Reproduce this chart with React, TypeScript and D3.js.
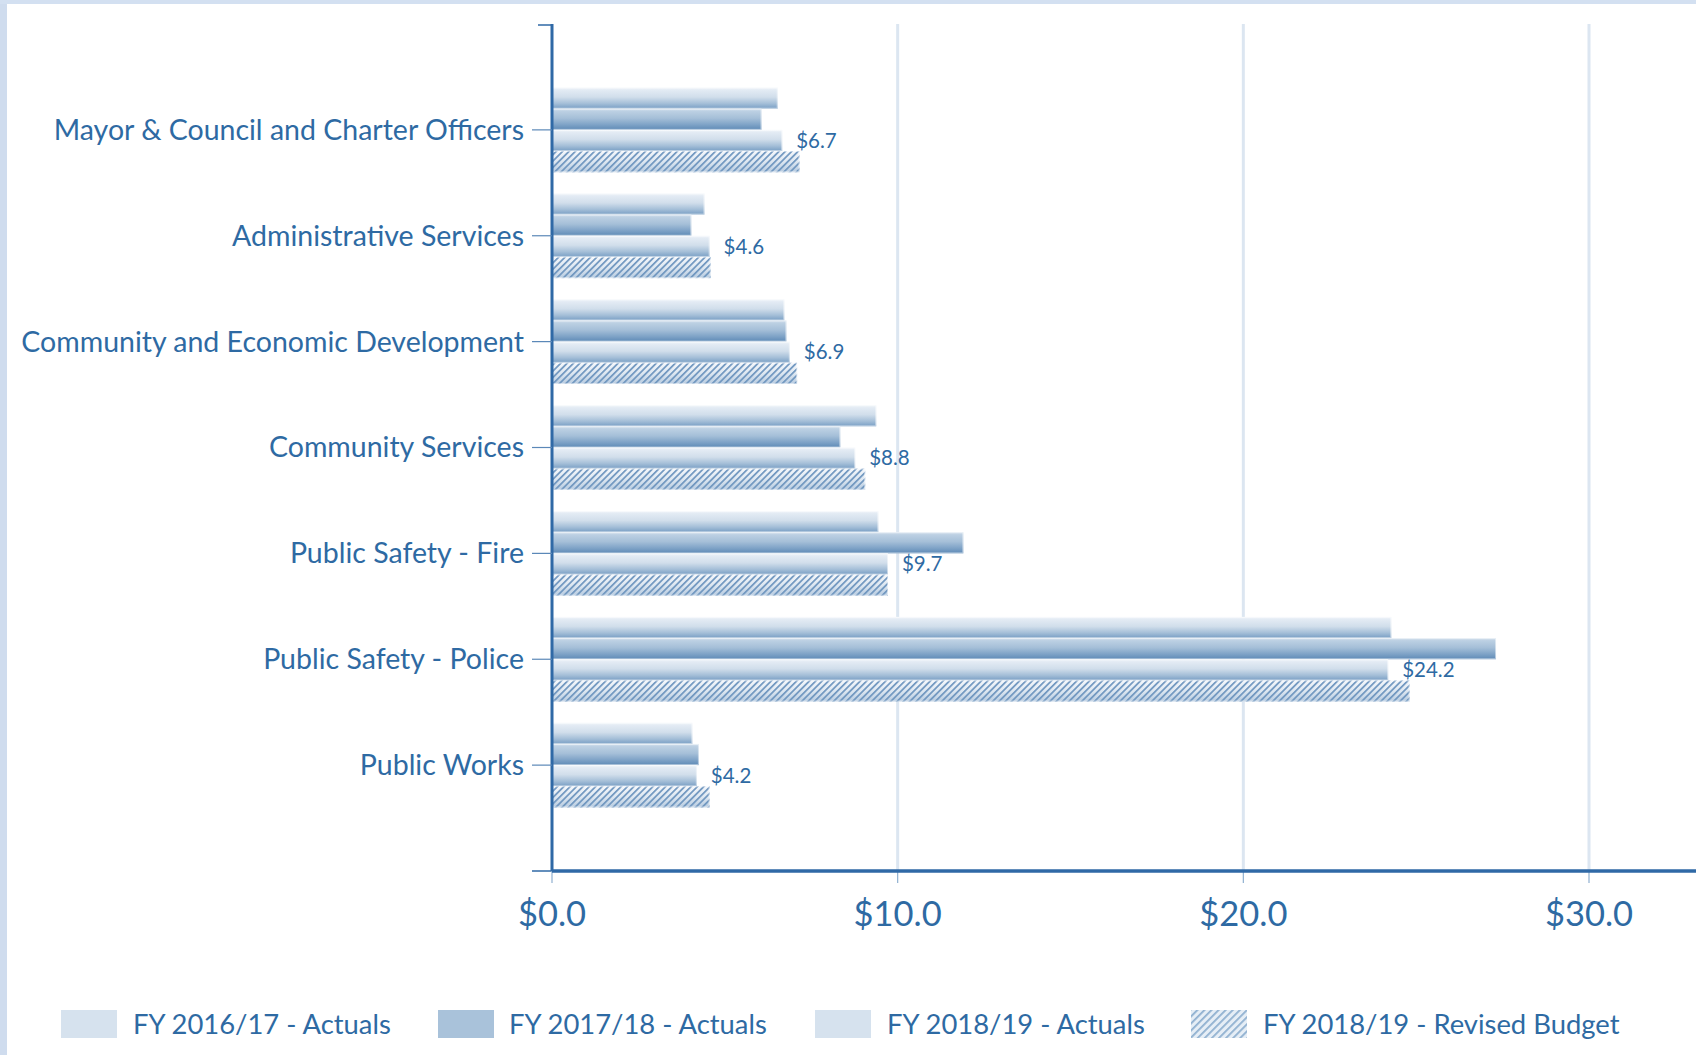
import React from "react";
import * as d3 from "d3";

const categories = [
  "Mayor & Council and Charter Officers",
  "Administrative Services",
  "Community and Economic Development",
  "Community Services",
  "Public Safety - Fire",
  "Public Safety - Police",
  "Public Works",
];
const seriesNames = [
  "FY 2016/17 - Actuals",
  "FY 2017/18 - Actuals",
  "FY 2018/19 - Actuals",
  "FY 2018/19 - Revised Budget",
];
const fy1617 = [6.53, 4.41, 6.72, 9.38, 9.44, 24.28, 4.06];
const fy1718 = [6.06, 4.03, 6.78, 8.34, 11.9, 27.31, 4.25];
const fy1819 = [6.66, 4.56, 6.88, 8.77, 9.72, 24.19, 4.19];
const fy1819Budget = [7.16, 4.59, 7.09, 9.06, 9.72, 24.81, 4.56];
const valueLabels = ["$6.7", "$4.6", "$6.9", "$8.8", "$9.7", "$24.2", "$4.2"];
const xTicks = [0, 10, 20, 30];

const W = 1696;
const H = 1055;
const TEXT = "#2e6aa3";
const AXIS = "#2f69a6";
const GRID = "#dce6f1";
const FONT = "Lato, 'Open Sans', sans-serif";

export default function App() {
  const seriesValues = [fy1617, fy1718, fy1819, fy1819Budget];
  const x = d3.scaleLinear().domain([0, 30]).range([552, 1589]);
  const y = d3.scalePoint<string>().domain(categories).range([24, 871]).padding(1);
  const step = y.step();
  const inner = d3
    .scaleBand<string>()
    .domain(seriesNames)
    .range([-step * 0.4, step * 0.4])
    .padding(0);
  const bh = inner.bandwidth();
  const fills = ["url(#gLight)", "url(#gDark)", "url(#gLight)", "url(#gHatchBg)"];
  const axisY0 = 24;
  const axisY1 = 871;
  const x0 = x(0);

  const legendItems = [
    { sx: 61, tx: 133, fill: "#d6e2ee" },
    { sx: 438, tx: 509, fill: "#a9c2da" },
    { sx: 815, tx: 887, fill: "#d6e2ee" },
    { sx: 1191, tx: 1263, fill: "url(#hatchLegend)" },
  ];

  return (
    <div style={{ position: "absolute", left: 0, top: 0 }}>
      <svg width={W} height={H} style={{ display: "block", background: "#fff" }}>
        <defs>
          <linearGradient id="gLight" x1="0" y1="0" x2="0" y2="1">
            <stop offset="0" stopColor="#f2f6fa" />
            <stop offset="0.12" stopColor="#e3ebf4" />
            <stop offset="0.45" stopColor="#d1deeb" />
            <stop offset="0.75" stopColor="#a5bfd8" />
            <stop offset="1" stopColor="#789ec4" />
          </linearGradient>
          <linearGradient id="gDark" x1="0" y1="0" x2="0" y2="1">
            <stop offset="0" stopColor="#d6e2ee" />
            <stop offset="0.12" stopColor="#bcd0e3" />
            <stop offset="0.45" stopColor="#a5bfd8" />
            <stop offset="0.75" stopColor="#7fa3c7" />
            <stop offset="1" stopColor="#5e8ab6" />
          </linearGradient>
          <linearGradient id="gHatchBg" x1="0" y1="0" x2="0" y2="1">
            <stop offset="0" stopColor="#f4f7fb" />
            <stop offset="0.5" stopColor="#dde7f1" />
            <stop offset="1" stopColor="#b7cbe0" />
          </linearGradient>
          <pattern
            id="hatch"
            patternUnits="userSpaceOnUse"
            width="4.5"
            height="4.5"
            patternTransform="rotate(45)"
          >
            <rect x="0" y="0" width="1.7" height="4.5" fill="#6f96bf" />
          </pattern>
          <pattern
            id="hatchLegend"
            patternUnits="userSpaceOnUse"
            width="5"
            height="5"
            patternTransform="rotate(45)"
          >
            <rect x="0" y="0" width="5" height="5" fill="#e6eef6" />
            <rect x="0" y="0" width="1.8" height="5" fill="#8fb0d0" />
          </pattern>
        </defs>

        {/* page frame */}
        <rect x={0} y={0} width={7} height={H} fill="#cfdcee" />
        <rect x={0} y={0} width={W} height={4} fill="#d3e0f1" />

        {/* gridlines */}
        {xTicks
          .filter((t) => t > 0)
          .map((t) => (
            <line
              key={"g" + t}
              x1={x(t)}
              x2={x(t)}
              y1={axisY0}
              y2={axisY1}
              stroke={GRID}
              strokeWidth={3}
            />
          ))}

        {/* bars */}
        {categories.map((c, ci) => (
          <g key={c}>
            {seriesNames.map((s, si) => {
              const v = seriesValues[si][ci];
              const yy = (y(c) as number) + (inner(s) as number);
              const w = x(v) - x0;
              return (
                <g key={s}>
                  <rect x={x0} y={yy} width={w} height={bh} fill={fills[si]} />
                  {si === 3 && (
                    <rect x={x0} y={yy} width={w} height={bh} fill="url(#hatch)" />
                  )}
                  <rect
                    x={x0}
                    y={yy + 0.5}
                    width={w - 0.5}
                    height={bh - 1}
                    fill="none"
                    stroke="#ffffff"
                    strokeOpacity={0.5}
                    strokeWidth={1}
                  />
                </g>
              );
            })}
            <text
              x={x(fy1819[ci]) + 14}
              y={(y(c) as number) + (inner(seriesNames[2]) as number) + bh / 2}
              dy="0.35em"
              fill={TEXT}
              fontFamily={FONT}
              fontSize={20.5}
            >
              {valueLabels[ci]}
            </text>
          </g>
        ))}

        {/* y axis */}
        <line x1={x0} x2={x0} y1={axisY0} y2={axisY1} stroke={AXIS} strokeWidth={3} />
        <line x1={x0 - 14} x2={x0} y1={axisY0 + 1} y2={axisY0 + 1} stroke={AXIS} strokeWidth={1.5} />
        <line x1={x0 - 20} x2={x0} y1={axisY1} y2={axisY1} stroke={AXIS} strokeWidth={1.5} />
        {categories.map((c) => (
          <g key={"t" + c}>
            <line
              x1={x0 - 20}
              x2={x0}
              y1={y(c)}
              y2={y(c)}
              stroke="#5b88b8"
              strokeWidth={1.2}
            />
            <text
              x={x0 - 28}
              y={y(c)}
              dy="0.35em"
              textAnchor="end"
              fill={TEXT}
              fontFamily={FONT}
              fontSize={28.5}
            >
              {c}
            </text>
          </g>
        ))}

        {/* x axis */}
        {xTicks.map((t) => (
          <line
            key={"xt" + t}
            x1={x(t)}
            x2={x(t)}
            y1={axisY1}
            y2={axisY1 + 12}
            stroke="#8fb0d0"
            strokeWidth={1.2}
          />
        ))}
        <line x1={x0} x2={W} y1={axisY1} y2={axisY1} stroke={AXIS} strokeWidth={3.5} />
        {xTicks.map((t) => (
          <text
            key={"xl" + t}
            x={x(t)}
            y={914}
            dy="0.35em"
            textAnchor="middle"
            fill={TEXT}
            fontFamily={FONT}
            fontSize={34.5}
          >
            {"$" + d3.format(".1f")(t)}
          </text>
        ))}

        {/* legend */}
        {legendItems.map((it, i) => (
          <g key={"lg" + i}>
            <rect x={it.sx} y={1010} width={56} height={28} fill={it.fill} />
            <text
              x={it.tx}
              y={1024}
              dy="0.35em"
              fill={TEXT}
              fontFamily={FONT}
              fontSize={27.4}
            >
              {seriesNames[i]}
            </text>
          </g>
        ))}
      </svg>
    </div>
  );
}
